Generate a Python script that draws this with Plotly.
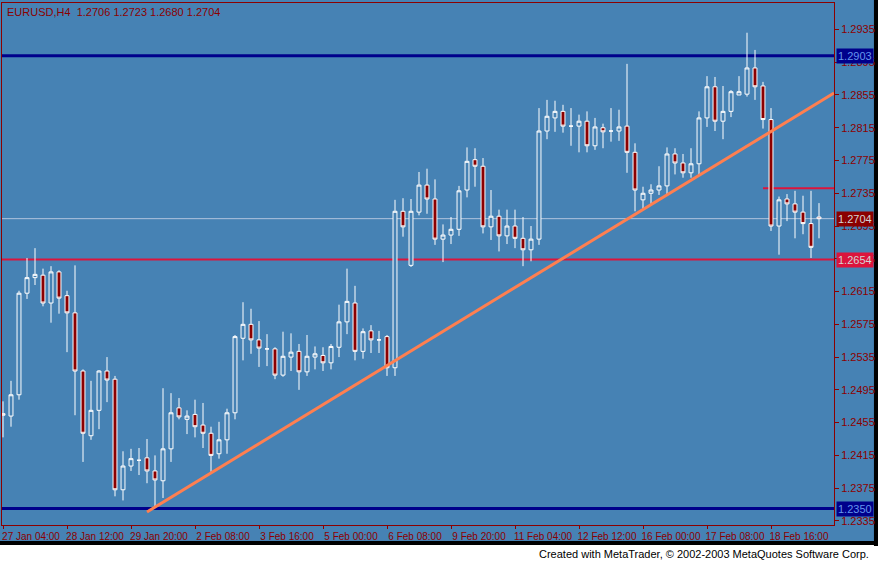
import datetime as dt
import plotly.graph_objects as go

# OHLC (EURUSD H4)
opens = [1.2466, 1.2463, 1.2489, 1.2613, 1.2632, 1.2635, 1.2601, 1.2639, 1.2610, 1.2589,
         1.2518, 1.2439, 1.2470, 1.2518, 1.2508, 1.2373, 1.2402, 1.2409, 1.2412, 1.2396,
         1.2384, 1.2423, 1.2473, 1.2459, 1.2465, 1.2452, 1.2442, 1.2417, 1.2434, 1.2467,
         1.2558, 1.2575, 1.2556, 1.2545, 1.2545, 1.2513, 1.2535, 1.2542, 1.2517, 1.2535,
         1.2537, 1.2528, 1.2547, 1.2578, 1.2601, 1.2542, 1.2567, 1.2556, 1.2560, 1.2522,
         1.2713, 1.2647, 1.2712, 1.2745, 1.2728, 1.2679, 1.2684, 1.2691, 1.2739, 1.2776,
         1.2768, 1.2694, 1.2707, 1.2683, 1.2695, 1.2680, 1.2666, 1.2679, 1.2811, 1.2827,
         1.2835, 1.2817, 1.2817, 1.2823, 1.2793, 1.2815, 1.2811, 1.2811, 1.2817, 1.2785,
         1.2727, 1.2735, 1.2739, 1.2744, 1.2783, 1.2772, 1.2760, 1.2771, 1.2827, 1.2865,
         1.2823, 1.2835, 1.2855, 1.2856, 1.2888, 1.2866, 1.2825, 1.2695, 1.2728, 1.2722,
         1.2712, 1.2698, 1.2706]
highs = [1.2481, 1.2506, 1.2616, 1.2656, 1.2668, 1.2643, 1.2646, 1.2641, 1.2616, 1.2647,
         1.2520, 1.2506, 1.2519, 1.2535, 1.2512, 1.2420, 1.2423, 1.2424, 1.2435, 1.2415,
         1.2497, 1.2491, 1.2485, 1.2470, 1.2483, 1.2479, 1.2450, 1.2456, 1.2472, 1.2562,
         1.2602, 1.2594, 1.2579, 1.2563, 1.2547, 1.2566, 1.2564, 1.2551, 1.2562, 1.2548,
         1.2547, 1.2551, 1.2599, 1.2643, 1.2622, 1.2570, 1.2574, 1.2567, 1.2562, 1.2727,
         1.2729, 1.2728, 1.2761, 1.2765, 1.2752, 1.2697, 1.2706, 1.2744, 1.2791, 1.2790,
         1.2778, 1.2739, 1.2715, 1.2715, 1.2715, 1.2706, 1.2695, 1.2839, 1.2849, 1.2848,
         1.2843, 1.2839, 1.2831, 1.2835, 1.2827, 1.2820, 1.2839, 1.2837, 1.2893, 1.2796,
         1.2743, 1.2746, 1.2768, 1.2791, 1.2790, 1.2783, 1.2790, 1.2835, 1.2878, 1.2877,
         1.2866, 1.2861, 1.2878, 1.2931, 1.2910, 1.2871, 1.2839, 1.2731, 1.2734, 1.2738,
         1.2732, 1.2738, 1.2723]
lows = [1.2437, 1.2450, 1.2483, 1.2606, 1.2623, 1.2597, 1.2577, 1.2588, 1.2541, 1.2464,
        1.2407, 1.2434, 1.2447, 1.2480, 1.2365, 1.2360, 1.2396, 1.2391, 1.2381, 1.2352,
        1.2363, 1.2407, 1.2459, 1.2441, 1.2437, 1.2424, 1.2395, 1.2411, 1.2417, 1.2459,
        1.2531, 1.2539, 1.2523, 1.2524, 1.2508, 1.2511, 1.2518, 1.2495, 1.2512, 1.2520,
        1.2518, 1.2520, 1.2535, 1.2563, 1.2531, 1.2533, 1.2540, 1.2540, 1.2512, 1.2512,
        1.2682, 1.2645, 1.2708, 1.2710, 1.2672, 1.2651, 1.2673, 1.2683, 1.2730, 1.2743,
        1.2686, 1.2678, 1.2664, 1.2673, 1.2668, 1.2646, 1.2652, 1.2672, 1.2801, 1.2810,
        1.2809, 1.2793, 1.2785, 1.2785, 1.2788, 1.2790, 1.2798, 1.2799, 1.2760, 1.2713,
        1.2715, 1.2722, 1.2733, 1.2733, 1.2758, 1.2754, 1.2754, 1.2757, 1.2816, 1.2811,
        1.2801, 1.2828, 1.2855, 1.2853, 1.2849, 1.2814, 1.2689, 1.2660, 1.2701, 1.2680,
        1.2685, 1.2656, 1.2680]
closes = [1.2464, 1.2489, 1.2613, 1.2632, 1.2636, 1.2601, 1.2639, 1.2607, 1.2589, 1.2518,
          1.2442, 1.2470, 1.2518, 1.2507, 1.2373, 1.2402, 1.2411, 1.2409, 1.2396, 1.2385,
          1.2423, 1.2467, 1.2462, 1.2463, 1.2450, 1.2442, 1.2415, 1.2434, 1.2467, 1.2560,
          1.2575, 1.2556, 1.2546, 1.2545, 1.2513, 1.2536, 1.2541, 1.2517, 1.2536, 1.2539,
          1.2528, 1.2548, 1.2578, 1.2603, 1.2542, 1.2566, 1.2556, 1.2556, 1.2522, 1.2713,
          1.2694, 1.2713, 1.2745, 1.2728, 1.2679, 1.2684, 1.2691, 1.2738, 1.2774, 1.2768,
          1.2694, 1.2707, 1.2683, 1.2695, 1.2680, 1.2666, 1.2679, 1.2811, 1.2829, 1.2835,
          1.2817, 1.2817, 1.2823, 1.2793, 1.2816, 1.2810, 1.2811, 1.2816, 1.2785, 1.2739,
          1.2735, 1.2739, 1.2744, 1.2783, 1.2772, 1.2760, 1.2771, 1.2827, 1.2865, 1.2823,
          1.2835, 1.2859, 1.2859, 1.2888, 1.2865, 1.2825, 1.2695, 1.2727, 1.2722, 1.2712,
          1.2698, 1.2669, 1.2704]

# drawn objects: levels and trend line
level_blue_top = 1.2903
level_blue_bottom = 1.2350
level_red = 1.2654
level_red_short = 1.2741
bid = 1.2704
trend_x = [18, 103.875]
trend_y = [1.23459, 1.28574]

# H4 bar times: weekdays only, no Friday 20:00 bar
times = []
t = dt.datetime(2009, 1, 27, 4)
while len(times) < len(opens):
    if t.weekday() < 4 or (t.weekday() == 4 and t.hour < 20):
        times.append(t)
    t += dt.timedelta(hours=4)
cats = [f"{d.day} {d.strftime('%b %H:%M')}" for d in times]

BG = "#4682B4"
MAROON = "#8B0000"
FONT = "Liberation Sans"

fig = go.Figure()
fig.add_trace(go.Candlestick(
    x=cats, open=opens, high=highs, low=lows, close=closes,
    increasing=dict(line=dict(color="white", width=1), fillcolor=BG),
    decreasing=dict(line=dict(color="white", width=1), fillcolor=MAROON),
    whiskerwidth=0, showlegend=False, hoverinfo="skip"))

fig.add_trace(go.Scatter(x=trend_x, y=trend_y, mode="lines", xaxis="x2",
                         line=dict(color="#FF7F50", width=3), showlegend=False))

for lvl, col, w in [(level_blue_top, "#00008B", 3), (level_blue_bottom, "#00008B", 3),
                    (level_red, "#DC143C", 2), (bid, "#B0C4DE", 1)]:
    fig.add_shape(type="line", xref="paper", x0=0, x1=1, y0=lvl, y1=lvl,
                  line=dict(color=col, width=w), layer="below")
fig.add_shape(type="line", xref="x2", x0=95, x1=103.875, y0=level_red_short, y1=level_red_short,
              line=dict(color="#DC143C", width=2), layer="below")

for lvl, bg, fg in [(level_blue_top, "#00008B", "#6495ED"), (bid, MAROON, "#D3D3D3"),
                    (level_red, "#DC143C", "#D3D3D3"), (level_blue_bottom, "#00008B", "#6495ED")]:
    fig.add_annotation(xref="paper", x=1.003, y=lvl, text=f"{lvl:.4f}", showarrow=False,
                       xanchor="left", font=dict(color=fg, size=11, family=FONT),
                       bgcolor=bg, borderpad=1)

fig.add_annotation(xref="paper", yref="paper", x=0.004, y=0.998, xanchor="left", yanchor="top",
                   text="EURUSD,H4  1.2706 1.2723 1.2680 1.2704", showarrow=False,
                   font=dict(color=MAROON, size=11, family=FONT))
fig.add_annotation(xref="paper", yref="paper", x=1.045, y=-0.055, xanchor="right", yanchor="middle",
                   text="Created with MetaTrader, © 2002-2003 MetaQuotes Software Corp.", showarrow=False,
                   font=dict(color="black", size=11, family=FONT))

# footer band and right edge
fig.add_shape(type="rect", xref="paper", yref="paper", x0=-0.01, x1=1.06, y0=-0.08, y1=-0.0383,
              fillcolor="white", line_width=0, layer="below")
fig.add_shape(type="rect", xref="paper", yref="paper", x0=-0.01, x1=1.06, y0=-0.0383, y1=-0.0307,
              fillcolor="black", line_width=0, layer="below")
fig.add_shape(type="rect", xref="paper", yref="paper", x0=1.048, x1=1.06, y0=-0.04, y1=1.01,
              fillcolor="black", line_width=0, layer="below")

fig.update_layout(
    width=878, height=562, margin=dict(l=2, r=44, t=3, b=37, autoexpand=False),
    paper_bgcolor=BG, plot_bgcolor=BG,
    xaxis=dict(type="category", range=[-0.125, 103.875], rangeslider_visible=False,
               tickvals=cats[::8], ticktext=cats[::8], ticks="outside", ticklen=3,
               tickcolor=MAROON, showgrid=False, showline=True, linecolor=MAROON, mirror=True,
               tickangle=0, automargin=False, ticklabelstandoff=-1,
               tickfont=dict(color=MAROON, size=10, family=FONT), ticklabelshift=28),
    xaxis2=dict(overlaying="x", range=[-0.125, 103.875], visible=False),
    yaxis=dict(side="right", range=[1.2330, 1.29673], tickvals=[1.2335 + 0.004 * k for k in range(16)],
               tickformat=".4f", ticks="outside", ticklen=4, tickcolor=MAROON, showgrid=False,
               showline=True, linecolor=MAROON, mirror=True, automargin=False,
               tickfont=dict(color=MAROON, size=11, family=FONT)),
)

fig.write_html("out.html", post_script="document.body.style.margin='0';",
               config={"displayModeBar": False})
